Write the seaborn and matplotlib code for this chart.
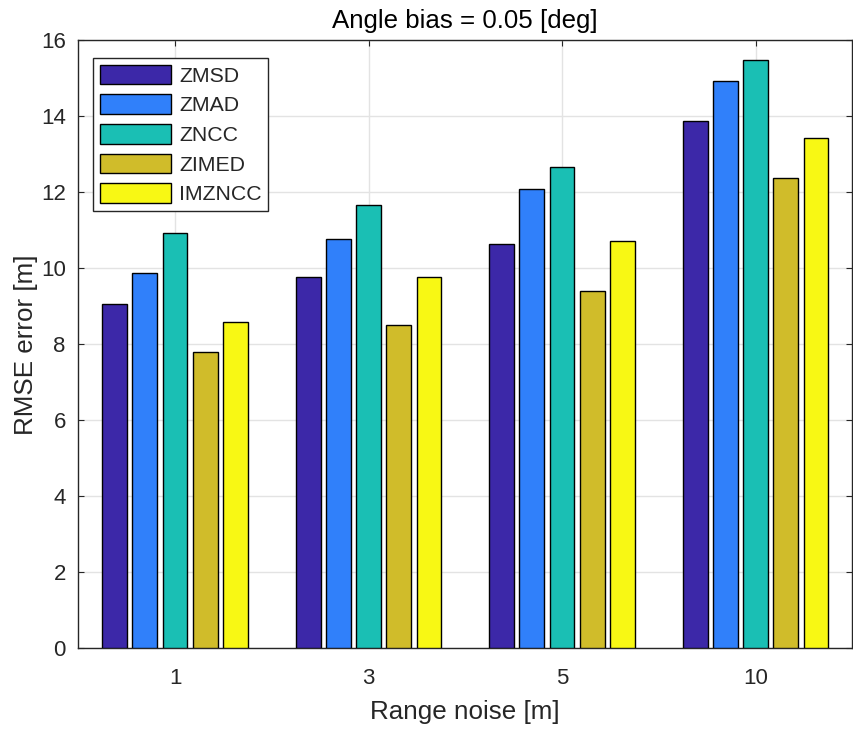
import matplotlib
matplotlib.use("Agg")
import matplotlib.pyplot as plt
import seaborn as sns
import pandas as pd

categories = ["1", "3", "5", "10"]
methods = ["ZMSD", "ZMAD", "ZNCC", "ZIMED", "IMZNCC"]
zmsd = [9.07, 9.78, 10.64, 13.88]
zmad = [9.88, 10.76, 12.08, 14.92]
zncc = [10.92, 11.66, 12.66, 15.47]
zimed = [7.80, 8.52, 9.41, 12.38]
imzncc = [8.59, 9.78, 10.71, 13.44]
colors = ["#3C28A8", "#3080FA", "#1ABFB4", "#D0BC2A", "#F8F814"]

series = {"ZMSD": zmsd, "ZMAD": zmad, "ZNCC": zncc, "ZIMED": zimed, "IMZNCC": imzncc}
rows = []
for m in methods:
    for c, v in zip(categories, series[m]):
        rows.append({"noise": c, "method": m, "rmse": v})
df = pd.DataFrame(rows)

sns.set_theme(style="white")
plt.rcParams["font.family"] = ["Liberation Sans", "DejaVu Sans"]

fig = plt.figure(figsize=(8.54, 7.29), dpi=100)
ax = fig.add_axes([0.0917, 0.1107, 0.9063, 0.834])

sns.barplot(data=df, x="noise", y="rmse", hue="method", order=categories,
            hue_order=methods, palette=colors, width=0.78, gap=0.18,
            edgecolor="black", linewidth=1.0, saturation=1, ax=ax, zorder=3)

ax.set_xlim(-0.5, 3.5)
ax.set_ylim(0, 16)
ax.set_yticks(range(0, 17, 2))
ax.grid(True, color="#E3E3E3", linewidth=1.0, zorder=0)
ax.set_axisbelow(True)
for s in ax.spines.values():
    s.set_color("#262626")
    s.set_linewidth(1.0)
    s.set_visible(True)
ax.tick_params(direction="in", length=4, width=0.8, color="#262626",
               labelcolor="#262626", labelsize=16, top=True, right=True,
               bottom=True, left=True, pad=9)
ax.tick_params(axis="x", pad=14)
ax.set_xlabel("Range noise [m]", fontsize=18.7, color="#262626", labelpad=8)
ax.set_ylabel("RMSE error [m]", fontsize=18.7, color="#262626", labelpad=2)
ax.set_title("Angle bias = 0.05 [deg]", fontsize=18.6, color="#000000", pad=9)

leg = ax.legend(loc="upper left", bbox_to_anchor=(15/774, 1-18/608),
                borderaxespad=0, fontsize=15.3, frameon=True, fancybox=False,
                framealpha=1, edgecolor="#262626", handlelength=3.35,
                handleheight=1.05, labelspacing=0.4, handletextpad=0.4,
                borderpad=0.3, title=None)
leg.get_frame().set_linewidth(1.0)
for t in leg.get_texts():
    t.set_color("#262626")

fig.savefig("out.png", dpi=100)
